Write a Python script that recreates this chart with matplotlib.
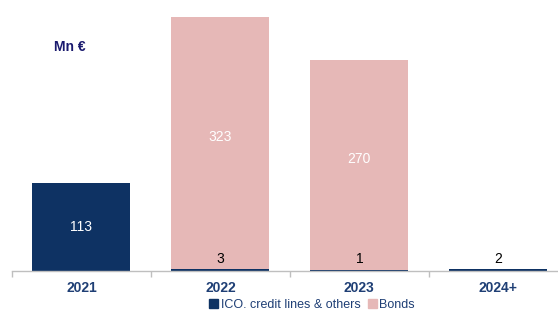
import numpy as np
import matplotlib
matplotlib.use("Agg")
import matplotlib.pyplot as plt
from matplotlib.patches import Patch

# --- adatok ---
years = ["2021", "2022", "2023", "2024+"]
ico = [113, 3, 1, 2]
bonds = [0, 323, 270, 0]

navy = "#0E3263"
pink = "#E6B8B7"
text_blue = "#1F3F75"

plt.rcParams["font.family"] = ["Liberation Sans", "DejaVu Sans"]

fig = plt.figure(figsize=(5.58, 3.11), dpi=100)
ax = fig.add_axes([12 / 558, 40 / 311, 546 / 558, 271 / 311])

x = np.arange(len(years))
w = 0.705
ax.bar(x, ico, width=w, color=navy, label="ICO. credit lines & others")
ax.bar(x, bonds, width=w, bottom=ico, color=pink, label="Bonds")

for i in range(len(years)):
    if bonds[i] > 0:
        ax.text(x[i], ico[i] + bonds[i] / 2 + 8, str(bonds[i]), ha="center", va="center",
                color="white", fontsize=10)
    if ico[i] > 50:
        ax.text(x[i], ico[i] / 2, str(ico[i]), ha="center", va="center",
                color="white", fontsize=10)
    else:
        ax.text(x[i], 15, str(ico[i]), ha="center", va="center",
                color="black", fontsize=10)

ax.set_xlim(-0.5, 3.43)
ax.set_ylim(0, 348)
ax.set_xticks(x)
ax.set_xticklabels(years, fontweight="bold", color=text_blue, fontsize=10)
ax.tick_params(axis="x", which="major", length=0, pad=7)
ax.set_xticks(np.arange(-0.5, 3.0, 1.0), minor=True)
ax.tick_params(axis="x", which="minor", length=4, color="#BFBFBF", width=1)
ax.set_yticks([])
for s in ["top", "right", "left"]:
    ax.spines[s].set_visible(False)
ax.spines["bottom"].set_color("#BFBFBF")
ax.spines["bottom"].set_linewidth(1)

fig.text(70 / 558, 1 - 47 / 311, "Mn €", ha="center", va="center",
         fontweight="bold", color="#1A1A6E", fontsize=10)

handles = [Patch(color=navy, label="ICO. credit lines & others"),
           Patch(color=pink, label="Bonds")]
fig.legend(handles=handles, loc="center", bbox_to_anchor=(312 / 558, 1 - 305 / 311),
           ncol=2, frameon=False, fontsize=9, handlelength=0.7, handleheight=0.7,
           handletextpad=0.2, columnspacing=0.6, labelcolor=text_blue)

fig.savefig("out.png", dpi=100)
